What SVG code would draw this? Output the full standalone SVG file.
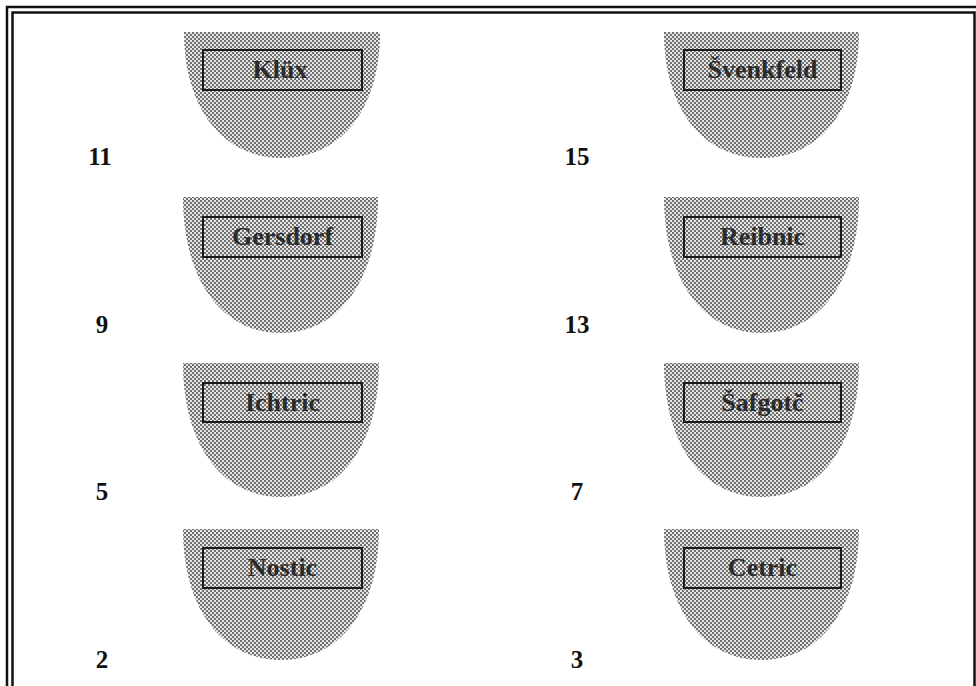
<svg xmlns="http://www.w3.org/2000/svg" width="976" height="686" viewBox="0 0 976 686">
  <defs>
    <!-- fine halftone dither used for the shield fields -->
    <pattern id="dither" patternUnits="userSpaceOnUse" width="4" height="4">
      <rect width="4" height="4" fill="#e6e6e6"/>
      <rect x="0" y="0" width="2" height="2" fill="#707070"/>
      <rect x="2" y="2" width="2" height="2" fill="#707070"/>
    </pattern>
  </defs>
  <style>
    .shield { fill: url(#dither); }
    .plate { fill: none; stroke: #1a1a1a; stroke-width: 2; }
    .name { font-family: "Liberation Serif", "DejaVu Serif", serif; font-weight: bold; font-size: 26px; fill: #2b2b2b; text-anchor: middle; }
    .num { font-family: "Liberation Serif", "DejaVu Serif", serif; font-weight: bold; font-size: 25px; fill: #111; text-anchor: middle; }
    .frame { fill: none; stroke: #111; stroke-width: 2.5; }
  </style>

  <rect width="976" height="686" fill="#ffffff"/>

  <!-- double frame -->
  <rect class="frame" x="7" y="7" width="975" height="700"/>
  <rect class="frame" x="12.5" y="12.5" width="962" height="690"/>

  <!-- left column -->
  <g id="klux">
    <path class="shield" d="M184,32 H380 C380,110 340,158 282,158 C224,158 184,110 184,32 Z"/>
    <rect class="plate" x="203" y="50" width="159" height="40"/>
    <text class="name" x="280" y="78">Klüx</text>
    <text class="num" x="100" y="165">11</text>
  </g>
  <g id="gersdorf">
    <path class="shield" d="M183,197 H378 C378,281 338,333 280.5,333 C223,333 183,281 183,197 Z"/>
    <rect class="plate" x="203" y="217" width="159" height="40"/>
    <text class="name" x="282.5" y="245">Gersdorf</text>
    <text class="num" x="102" y="333">9</text>
  </g>
  <g id="ichtric">
    <path class="shield" d="M183,363 H379 C379,446 339,497 281,497 C223,497 183,446 183,363 Z"/>
    <rect class="plate" x="203" y="383" width="159" height="39"/>
    <text class="name" x="282.5" y="411">Ichtric</text>
    <text class="num" x="102" y="500">5</text>
  </g>
  <g id="nostic">
    <path class="shield" d="M183,529 H379 C379,610 339,660 281,660 C223,660 183,610 183,529 Z"/>
    <rect class="plate" x="203" y="548" width="159" height="40"/>
    <text class="name" x="282.5" y="576">Nostic</text>
    <text class="num" x="102" y="668">2</text>
  </g>

  <!-- right column -->
  <g id="svenkfeld">
    <path class="shield" d="M664,32 H859 C859,110 819,158 761.5,158 C704,158 664,110 664,32 Z"/>
    <rect class="plate" x="684" y="50" width="157" height="40"/>
    <text class="name" x="762.5" y="78">Švenkfeld</text>
    <text class="num" x="577" y="165">15</text>
  </g>
  <g id="reibnic">
    <path class="shield" d="M664,197 H859 C859,281 819,333 761.5,333 C704,333 664,281 664,197 Z"/>
    <rect class="plate" x="684" y="217" width="157" height="40"/>
    <text class="name" x="762.5" y="245">Reibnic</text>
    <text class="num" x="577" y="333">13</text>
  </g>
  <g id="safgotc">
    <path class="shield" d="M664,363 H859 C859,446 819,497 761.5,497 C704,497 664,446 664,363 Z"/>
    <rect class="plate" x="684" y="383" width="157" height="39"/>
    <text class="name" x="762.5" y="411">Šafgotč</text>
    <text class="num" x="577" y="500">7</text>
  </g>
  <g id="cetric">
    <path class="shield" d="M664,529 H859 C859,610 819,660 761.5,660 C704,660 664,610 664,529 Z"/>
    <rect class="plate" x="684" y="548" width="157" height="40"/>
    <text class="name" x="762.5" y="576">Cetric</text>
    <text class="num" x="577" y="668">3</text>
  </g>

  <!-- no connectors in this figure -->
  <g id="connectors"/>
</svg>
